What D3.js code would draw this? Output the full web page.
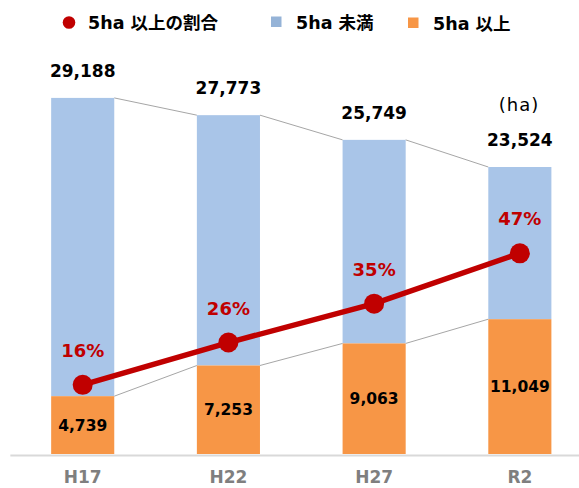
<!DOCTYPE html>
<html>
  <head>
    <meta charset="utf-8">
    <script src="https://d3js.org/d3.v7.min.js"></script>
    <style>
      body { margin: 0; background: #fff; }
      text { font-family: "DejaVu Sans", "Noto Sans CJK JP", sans-serif; }
    </style>
  </head>
  <body>
    <div id="chart"></div>
    <script>
      var width = 579;
      var height = 488;

      // data
      var years = ["H17", "H22", "H27", "R2"];
      var totals = [29188, 27773, 25749, 23524];       // all (ha)
      var over5 = [4739, 7253, 9063, 11049];           // 5ha 以上
      var shares = [16.2, 26.1, 35.2, 47.0];           // 5ha 以上の割合 (%)
      var shareLabels = ["16%", "26%", "35%", "47%"];

      var blue = "#A9C5E8";
      var orange = "#F79646";
      var red = "#C00000";

      var svg = d3.select("#chart").append("svg")
                  .attr("width", width)
                  .attr("height", height)

      var x = d3.scaleBand().domain(years).range([9.85, 592.7])
                .paddingInner(0.567).paddingOuter(0.2835);
      var y = d3.scaleLinear().domain([0, 35000]).range([454, 27]);
      var yPct = d3.scaleLinear().domain([0, 100]).range([454, 27]);
      var bw = x.bandwidth();

      // thin grey lines linking the bar tops
      for (var i = 0; i < years.length - 1; i++) {
        [totals, over5].forEach(function(arr){
          svg.append("line")
             .attr("x1", x(years[i]) + bw).attr("y1", y(arr[i]))
             .attr("x2", x(years[i+1])).attr("y2", y(arr[i+1]))
             .attr("stroke", "#A6A6A6")
             .attr("stroke-width", 1)
        })
      }

      // stacked bars
      years.forEach(function(c, i){
        svg.append("rect")
           .attr("x", x(c)).attr("width", bw)
           .attr("y", y(totals[i]))
           .attr("height", y(over5[i]) - y(totals[i]))
           .attr("fill", blue)
        svg.append("rect")
           .attr("x", x(c)).attr("width", bw)
           .attr("y", y(over5[i]))
           .attr("height", y(0) - y(over5[i]))
           .attr("fill", orange)
      })

      // x axis
      var xAxis = d3.axisBottom(x).tickSize(0).tickPadding(0);
      var gx = svg.append("g")
                  .attr("transform", "translate(0,455)")
                  .call(xAxis);
      gx.select(".domain").attr("stroke", "#D9D9D9").attr("stroke-width", 2);
      gx.selectAll(".tick text")
        .attr("y", 28).attr("dy", 0)
        .style("font-family", "'DejaVu Sans', sans-serif")
        .style("font-size", "17px")
        .style("font-weight", "bold")
        .attr("fill", "#7F7F7F")

      // value labels
      years.forEach(function(c, i){
        var cx = x(c) + bw / 2;
        svg.append("text")
           .attr("x", cx).attr("y", y(totals[i]) - 21)
           .attr("text-anchor", "middle")
           .style("font-size", "17px").style("font-weight", "bold")
           .attr("fill", "#000")
           .text(d3.format(",")(totals[i]))
        svg.append("text")
           .attr("x", cx).attr("y", (y(0) + y(over5[i])) / 2)
           .attr("dy", "0.36em")
           .attr("text-anchor", "middle")
           .style("font-size", "15.5px").style("font-weight", "bold")
           .attr("fill", "#000")
           .text(d3.format(",")(over5[i]))
      })

      // share line
      var line = d3.line()
                   .x(function(d, i){ return x(years[i]) + bw / 2; })
                   .y(function(d){ return yPct(d); });
      svg.append("path")
         .datum(shares)
         .attr("d", line)
         .attr("fill", "none")
         .attr("stroke", red)
         .attr("stroke-width", 5.5)
      svg.selectAll(".dot").data(shares).enter().append("circle")
         .attr("cx", function(d, i){ return x(years[i]) + bw / 2; })
         .attr("cy", function(d){ return yPct(d); })
         .attr("r", 10)
         .attr("fill", red)
      svg.selectAll(".pct").data(shares).enter().append("text")
         .attr("x", function(d, i){ return x(years[i]) + bw / 2; })
         .attr("y", function(d){ return yPct(d) - 28; })
         .attr("text-anchor", "middle")
         .style("font-size", "18px").style("font-weight", "bold")
         .attr("fill", red)
         .text(function(d, i){ return shareLabels[i]; })

      // unit
      svg.append("text")
         .attr("x", 519).attr("y", 111)
         .attr("text-anchor", "middle")
         .style("font-size", "18px")
         .style("letter-spacing", "1px")
         .attr("fill", "#000")
         .text("(ha)")

      // legend
      var lg = svg.append("g").style("font-size", "17.5px").style("font-weight", "bold");
      lg.append("circle").attr("cx", 69).attr("cy", 22.5).attr("r", 6.3).attr("fill", red)
      lg.append("text").attr("x", 88).attr("y", 29).text("5ha 以上の割合")
      lg.append("rect").attr("x", 271).attr("y", 16.5).attr("width", 10.5).attr("height", 10.5).attr("fill", "#95B3D7")
      lg.append("text").attr("x", 296).attr("y", 28.5).text("5ha 未満")
      lg.append("rect").attr("x", 408).attr("y", 17.5).attr("width", 10.5).attr("height", 10.5).attr("fill", orange)
      lg.append("text").attr("x", 433).attr("y", 29.5).text("5ha 以上")
    </script>
  </body>
</html>
